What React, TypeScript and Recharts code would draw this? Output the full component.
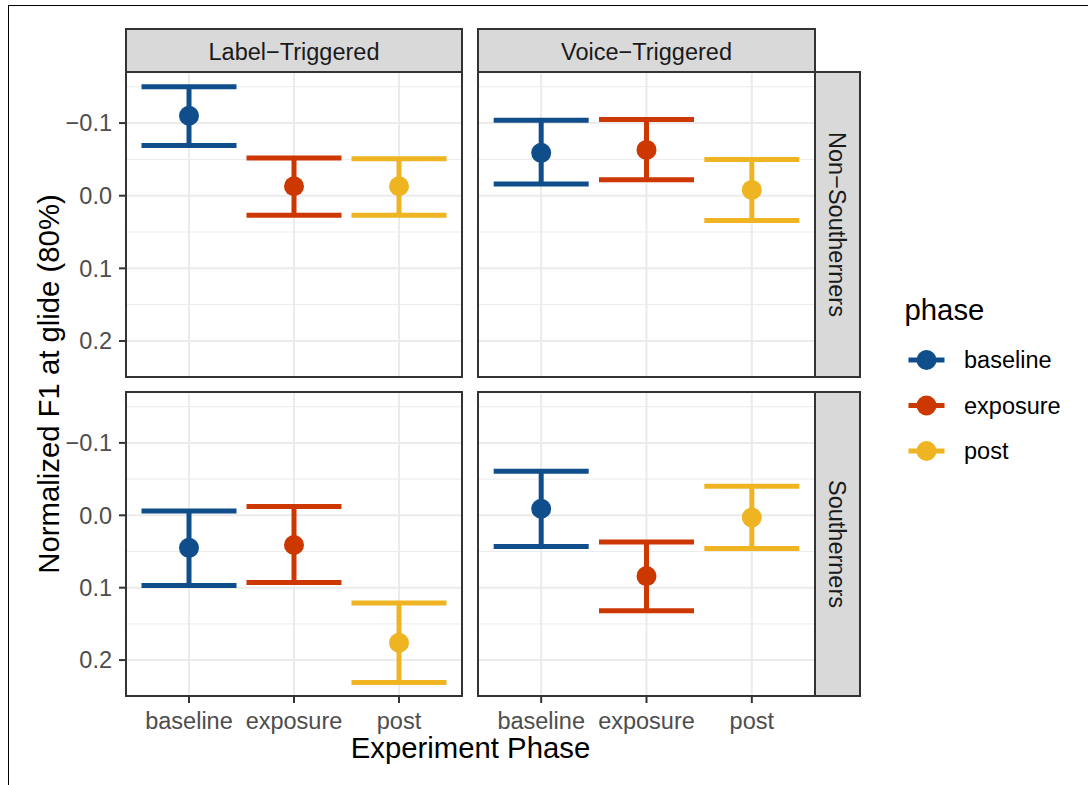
import { ScatterChart, Scatter, XAxis, YAxis, CartesianGrid, ReferenceLine, ErrorBar } from 'recharts';

const PHASES = ['baseline', 'exposure', 'post'];
const COLORS = ['#104E8B', '#CD3700', '#EEB422'];
const TRIGGERS = ['Label\u2212Triggered', 'Voice\u2212Triggered'];
const GROUPS = ['Non\u2212Southerners', 'Southerners'];

const Y_TICKS = [-0.1, 0, 0.1, 0.2];
const Y_MINOR = [-0.15, -0.05, 0.05, 0.15];

// Label-Triggered, Non-Southerners
const labelNonSouthMean = [-0.110, -0.013, -0.013];
const labelNonSouthLow = [-0.150, -0.052, -0.051];
const labelNonSouthHigh = [-0.069, 0.027, 0.027];
// Voice-Triggered, Non-Southerners
const voiceNonSouthMean = [-0.059, -0.063, -0.008];
const voiceNonSouthLow = [-0.104, -0.105, -0.050];
const voiceNonSouthHigh = [-0.016, -0.022, 0.034];
// Label-Triggered, Southerners
const labelSouthMean = [0.045, 0.041, 0.176];
const labelSouthLow = [-0.006, -0.012, 0.121];
const labelSouthHigh = [0.097, 0.093, 0.231];
// Voice-Triggered, Southerners
const voiceSouthMean = [-0.009, 0.084, 0.003];
const voiceSouthLow = [-0.061, 0.037, -0.040];
const voiceSouthHigh = [0.043, 0.132, 0.046];

const FONT = '"Liberation Sans", Arial, Helvetica, sans-serif';
const SMALL = 23.5;
const BIG = 29.3;
const YW = 100; // y axis room
const XH = 45; // x axis room

const fmtY = (v: number) => v.toFixed(1).replace('-', '\u2212');

interface PanelProps {
  left: number;
  top: number;
  w: number;
  h: number;
  showX: boolean;
  showY: boolean;
  mean: number[];
  low: number[];
  high: number[];
}

function Panel({ left, top, w, h, showX, showY, mean, low, high }: PanelProps) {
  const yw = showY ? YW : 0;
  const xh = showX ? XH : 0;
  return (
    <div style={{ position: 'absolute', left: left - yw, top }}>
      <ScatterChart width={w + yw} height={h + xh} margin={{ top: 0, right: 0, bottom: 0, left: 0 }}>
        <CartesianGrid stroke="#EBEBEB" strokeWidth={2} />
        {Y_MINOR.map(v => (
          <ReferenceLine key={v} y={v} stroke="#EBEBEB" strokeWidth={1} />
        ))}
        <XAxis
          type="number"
          dataKey="x"
          domain={[0.4, 3.6]}
          ticks={[1, 2, 3]}
          interval={0}
          hide={!showX}
          height={XH}
          tickSize={7}
          tickMargin={9}
          axisLine={false}
          tickLine={{ stroke: '#333333', strokeWidth: 2 }}
          tick={{ fill: '#4D4D4D', fontSize: SMALL }}
          tickFormatter={(i: number) => PHASES[i - 1]}
        />
        <YAxis
          type="number"
          dataKey="y"
          domain={[-0.1703, 0.2496]}
          reversed
          allowDataOverflow
          ticks={Y_TICKS}
          interval={0}
          hide={!showY}
          width={YW}
          tickSize={7}
          tickMargin={7}
          axisLine={false}
          tickLine={{ stroke: '#333333', strokeWidth: 2 }}
          tick={{ fill: '#4D4D4D', fontSize: SMALL }}
          tickFormatter={fmtY}
        />
        {PHASES.map((p, i) => (
          <Scatter
            key={p}
            name={p}
            data={[{ x: i + 1, y: mean[i], err: [mean[i] - low[i], high[i] - mean[i]] }]}
            fill={COLORS[i]}
            shape={(s: any) => <circle cx={s.cx} cy={s.cy} r={10} fill={COLORS[i]} />}
            isAnimationActive={false}
          >
            <ErrorBar dataKey="err" direction="y" width={47.5} strokeWidth={5} stroke={COLORS[i]} isAnimationActive={false} />
          </Scatter>
        ))}
      </ScatterChart>
    </div>
  );
}

export default function App() {
  const cols = [
    { x: 126, w: 336 },
    { x: 478, w: 337 },
  ];
  const rows = [
    { y: 72, h: 305 },
    { y: 392, h: 304 },
  ];
  const panels = [
    { r: 0, c: 0, mean: labelNonSouthMean, low: labelNonSouthLow, high: labelNonSouthHigh },
    { r: 0, c: 1, mean: voiceNonSouthMean, low: voiceNonSouthLow, high: voiceNonSouthHigh },
    { r: 1, c: 0, mean: labelSouthMean, low: labelSouthLow, high: labelSouthHigh },
    { r: 1, c: 1, mean: voiceSouthMean, low: voiceSouthLow, high: voiceSouthHigh },
  ];

  return (
    <div
      style={{
        position: 'absolute',
        left: 0,
        top: 0,
        width: 1088,
        height: 785,
        background: '#fff',
        overflow: 'hidden',
        fontFamily: FONT,
      }}
    >
      {panels.map(p => (
        <Panel
          key={`${p.r}-${p.c}`}
          left={cols[p.c].x}
          top={rows[p.r].y}
          w={cols[p.c].w}
          h={rows[p.r].h}
          showX={p.r === 1}
          showY={p.c === 0}
          mean={p.mean}
          low={p.low}
          high={p.high}
        />
      ))}

      <svg
        width={1088}
        height={785}
        style={{ position: 'absolute', left: 0, top: 0, pointerEvents: 'none', fontFamily: FONT }}
      >
        {/* outer frame */}
        <line x1={8.5} y1={5.5} x2={8.5} y2={785} stroke="#000" strokeWidth={1} />
        <line x1={8} y1={5.5} x2={1088} y2={5.5} stroke="#000" strokeWidth={1} />

        {/* panel borders */}
        {panels.map(p => (
          <rect
            key={`b-${p.r}-${p.c}`}
            x={cols[p.c].x}
            y={rows[p.r].y}
            width={cols[p.c].w}
            height={rows[p.r].h}
            fill="none"
            stroke="#333333"
            strokeWidth={2}
          />
        ))}

        {/* top strips */}
        {TRIGGERS.map((t, c) => (
          <g key={t}>
            <rect x={cols[c].x} y={29} width={cols[c].w} height={43} fill="#D9D9D9" stroke="#333333" strokeWidth={2} />
            <text x={cols[c].x + cols[c].w / 2} y={60} textAnchor="middle" fontSize={SMALL} fill="#1A1A1A">
              {t}
            </text>
          </g>
        ))}

        {/* right strips */}
        {GROUPS.map((g, r) => (
          <g key={g}>
            <rect x={815} y={rows[r].y} width={45} height={rows[r].h} fill="#D9D9D9" stroke="#333333" strokeWidth={2} />
            <text
              transform={`translate(829, ${rows[r].y + rows[r].h / 2}) rotate(90)`}
              textAnchor="middle"
              fontSize={SMALL}
              fill="#1A1A1A"
            >
              {g}
            </text>
          </g>
        ))}

        {/* axis titles */}
        <text x={470.5} y={758} textAnchor="middle" fontSize={BIG} fill="#000">
          Experiment Phase
        </text>
        <text transform="translate(59, 384) rotate(-90)" textAnchor="middle" fontSize={BIG} fill="#000">
          Normalized F1 at glide (80%)
        </text>

        {/* legend */}
        <text x={904.5} y={320} fontSize={BIG} fill="#000">
          phase
        </text>
        {PHASES.map((p, i) => {
          const y = 360 + i * 45.5;
          return (
            <g key={p}>
              <line x1={908.5} y1={y} x2={944.5} y2={y} stroke={COLORS[i]} strokeWidth={5} />
              <circle cx={926.5} cy={y} r={10} fill={COLORS[i]} />
              <text x={964} y={y + 8} fontSize={SMALL} fill="#000">
                {p}
              </text>
            </g>
          );
        })}
      </svg>
    </div>
  );
}
